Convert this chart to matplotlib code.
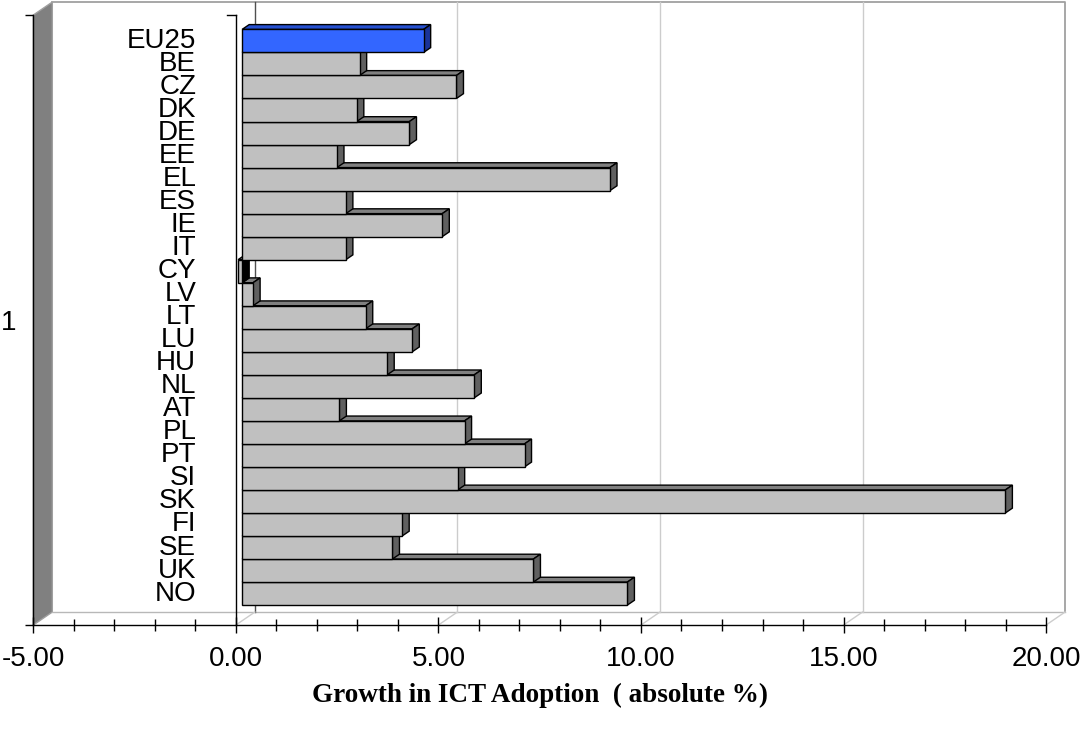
import numpy as np
import matplotlib
matplotlib.use("Agg")
import matplotlib.pyplot as plt

plt.rcParams["font.family"] = "Liberation Sans"
plt.rcParams["axes.unicode_minus"] = False

# data (growth in ICT adoption, absolute %)
countries = ["EU25", "BE", "CZ", "DK", "DE", "EE", "EL", "ES", "IE", "IT",
             "CY", "LV", "LT", "LU", "HU", "NL", "AT", "PL", "PT", "SI",
             "SK", "FI", "SE", "UK", "NO"]
growth = [4.48, 2.90, 5.29, 2.83, 4.13, 2.34, 9.08, 2.56, 4.94, 2.56,
          -0.10, 0.27, 3.05, 4.20, 3.58, 5.73, 2.40, 5.49, 6.97, 5.32,
          18.84, 3.95, 3.71, 7.19, 9.51]
highlight = "EU25"
x_ticks = [-5, 0, 5, 10, 15, 20]

x_min, x_max = x_ticks[0], x_ticks[-1]
n = len(countries)
ypos = np.arange(n)[::-1]  # first country on top

fig = plt.figure(figsize=(10.82, 7.3), dpi=100)
ax = fig.add_axes([0.0308, 0.1438, 0.9360, 0.8356])
ax.set_xlim(x_min, x_max)
ax.set_ylim(-1.18, n - 0.5 + 0.81)
y0, y1 = ax.get_ylim()

# 3D box depth (in pixels) turned into data units
px_x = ax.bbox.width / (x_max - x_min)
px_y = ax.bbox.height / (y1 - y0)
ddx = 19 / px_x
ddy = 13 / px_y

# walls and floor
ax.fill([x_min, x_min, x_min + ddx, x_min + ddx], [y0, y1, y1 + ddy, y0 + ddy],
        facecolor="#808080", edgecolor="#A0A0A0", lw=1, clip_on=False, zorder=1)
ax.plot([x_min + ddx, x_max + ddx, x_max + ddx], [y1 + ddy, y1 + ddy, y0 + ddy],
        color="#A0A0A0", lw=1.3, clip_on=False, zorder=1)
ax.plot([x_min + ddx, x_max + ddx], [y0 + ddy, y0 + ddy],
        color="#B8B8B8", lw=1, clip_on=False, zorder=1)
for g in x_ticks[1:]:
    if g < x_max:
        ax.plot([g + ddx, g + ddx], [y0 + ddy, y1 + ddy],
                color="#505050" if g == 0 else "#CCCCCC", lw=1, clip_on=False, zorder=1)
    ax.plot([g, g + ddx], [y0, y0 + ddy], color="#CCCCCC", lw=1, clip_on=False, zorder=1)

# front zero line with its little tick at the top
ax.plot([0, 0], [y0, y1], color="black", lw=1, clip_on=False, zorder=2)
ax.plot([-9 / px_x, 0], [y1, y1], color="black", lw=1, clip_on=False, zorder=2)

# bars: front face, top face and end face
d0, dt = 0.33, 0.37
for i in reversed(range(n)):
    v = growth[i]
    yc = ypos[i]
    if countries[i] == highlight:
        c_front, c_top, c_side = "#3366FF", "#2650D0", "#1A3399"
    else:
        c_front, c_top, c_side = "#C0C0C0", "#808080", "#606060"
    if v < 0:
        c_side = "black"
    z = 10 + 3 * (n - i)
    xa = d0 * ddx + min(v, 0)
    xb = d0 * ddx + max(v, 0)
    yt = yc + 0.5 + d0 * ddy
    yb = yc - 0.5 + d0 * ddy
    ax.fill([xa, xb, xb + dt * ddx, xa + dt * ddx],
            [yt, yt, yt + dt * ddy, yt + dt * ddy],
            facecolor=c_top, edgecolor="black", lw=1, clip_on=False, zorder=z)
    ax.fill([xb, xb, xb + dt * ddx, xb + dt * ddx],
            [yb, yt, yt + dt * ddy, yb + dt * ddy],
            facecolor=c_side, edgecolor="black", lw=1, clip_on=False, zorder=z + 1)
    ax.barh(yc + d0 * ddy, v, left=d0 * ddx, height=1, color=c_front,
            edgecolor="black", lw=1, clip_on=False, zorder=z + 2)
    ax.text(-0.98, yc + d0 * ddy, countries[i], ha="right", va="center",
            fontsize=20, clip_on=False, zorder=100)

# axes
for s in ["top", "right"]:
    ax.spines[s].set_visible(False)
for s in ["left", "bottom"]:
    ax.spines[s].set_linewidth(1)
    ax.spines[s].set_zorder(3)

ax.set_xticks(x_ticks)
ax.set_xticklabels(["%.2f" % t for t in x_ticks])
ax.set_xticks(np.arange(x_min, x_max + 1, 1), minor=True)
ax.tick_params(axis="x", which="major", direction="inout", length=12, width=1,
               labelsize=20, pad=9)
ax.tick_params(axis="x", which="minor", direction="inout", length=9, width=1)

ax.set_yticks([(y0 + y1) / 2])
ax.set_yticklabels(["1"])
ax.set_yticks([y0, y1], minor=True)
ax.tick_params(axis="y", which="major", length=0, labelsize=20, pad=12)
ax.tick_params(axis="y", which="minor", direction="out", length=6, width=1)

ax.set_xlabel("Growth in ICT Adoption  ( absolute %)", family="Liberation Serif",
              fontweight="bold", fontsize=19.5, labelpad=8)

fig.savefig("out.png", dpi=100)
